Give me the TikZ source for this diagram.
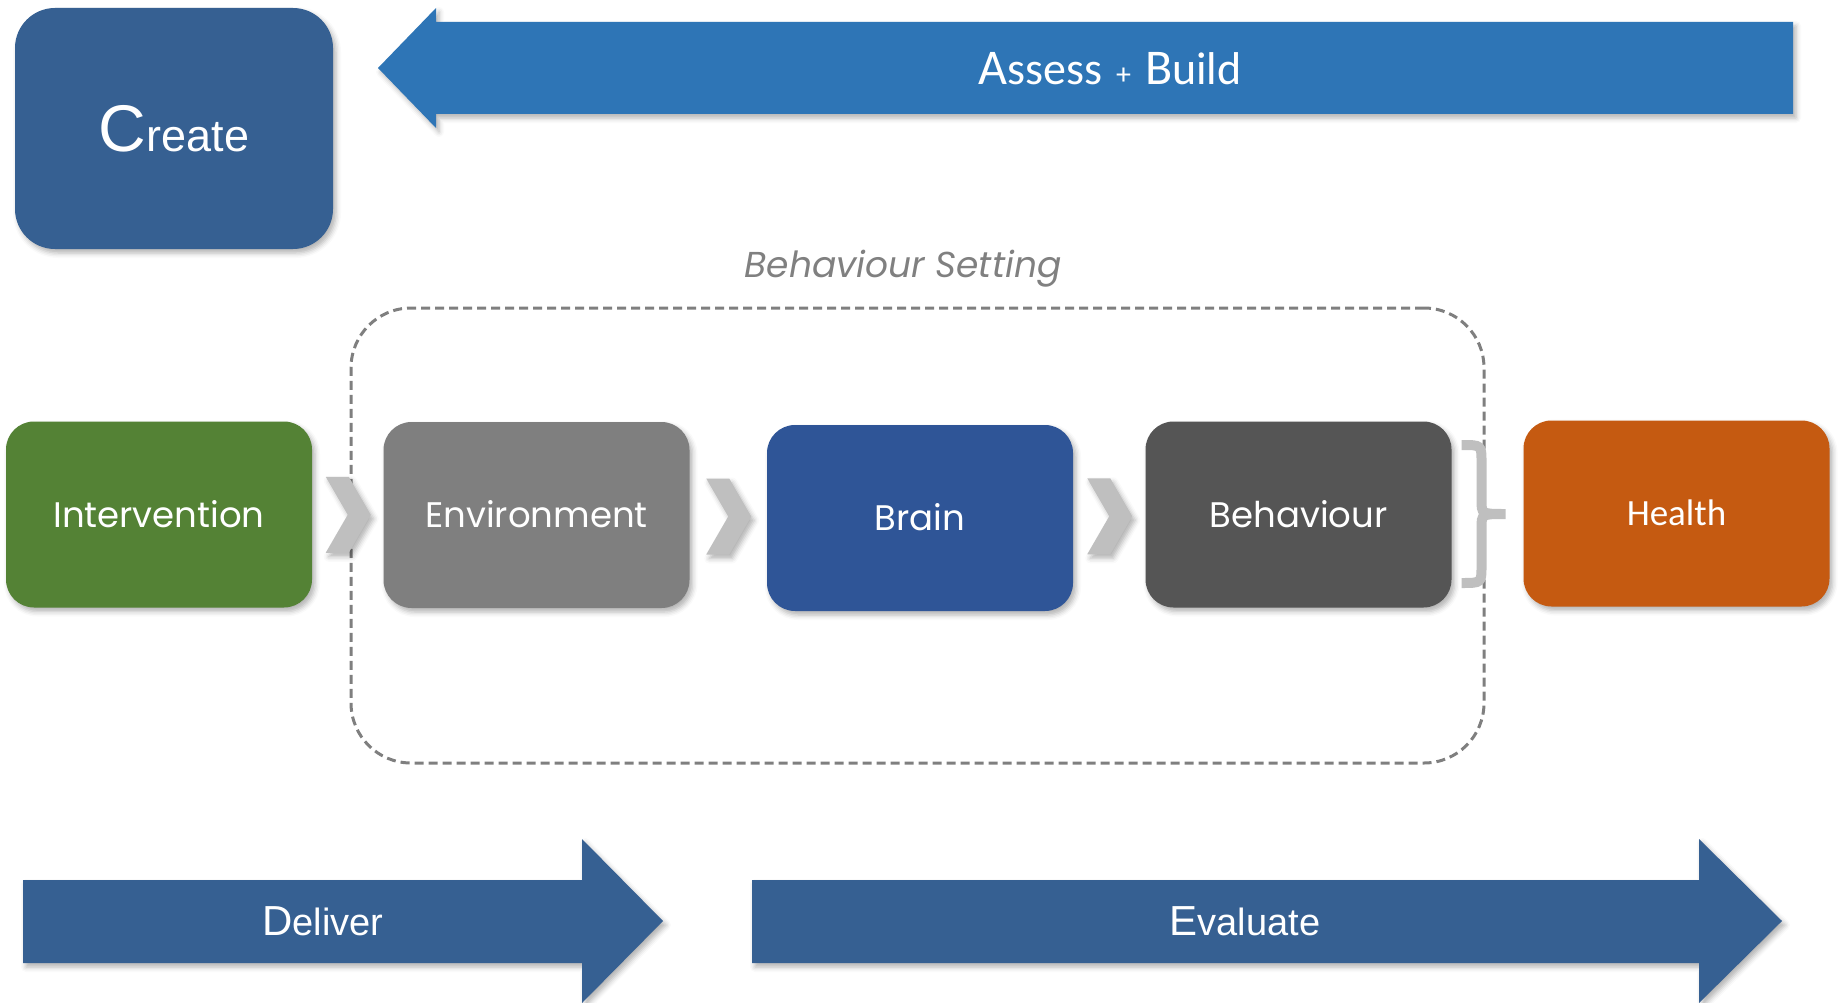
\documentclass[tikz,border=0pt]{standalone}
\usepackage{fontspec}
\setmainfont{Liberation Sans}
\newfontfamily\gothic{Poppins}
\newfontfamily\calib{Carlito}
\usetikzlibrary{calc,shadows.blur}

\definecolor{createblue}{HTML}{366092}
\definecolor{assessblue}{HTML}{2E75B6}
\definecolor{intgreen}{HTML}{548235}
\definecolor{envgray}{HTML}{7F7F7F}
\definecolor{brainblue}{HTML}{2F5597}
\definecolor{behgray}{HTML}{555555}
\definecolor{healthorange}{HTML}{C55A11}
\definecolor{chevgray}{HTML}{BFBFBF}
\definecolor{dashgray}{HTML}{7F7F7F}
\definecolor{labelgray}{HTML}{808080}

\tikzset{
  softshadow/.style={blur shadow={shadow xshift=3pt, shadow yshift=-4pt,
      shadow blur radius=5pt, shadow opacity=30}},
  stagebox/.style={rounded corners=28pt, minimum width=306pt,
      minimum height=186pt, inner sep=0pt, text=white,
      font=\gothic\fontsize{35.5}{35.5}\selectfont,
      text height=25pt, text depth=0pt, softshadow},
  createbox/.style={rounded corners=40pt, minimum width=318pt,
      minimum height=241pt, inner sep=0pt, text=white, fill=createblue,
      text height=47pt, text depth=0pt, softshadow},
  arrowtext/.style={text=white, inner sep=0pt, anchor=base},
  settingbox/.style={draw=dashgray, line width=3pt,
      dash pattern=on 9pt off 5pt, rounded corners=60pt,
      minimum width=1133pt, minimum height=455pt, inner sep=0pt},
  bracestroke/.style={draw=chevgray, line width=10pt},
  chevron/.pic={
    \fill[chevgray, softshadow] (-22,-38) -- (1,-38) -- (23,0) -- (1,38)
      -- (-22,38) -- (0,0) -- cycle;
  }
}

\begin{document}
\begin{tikzpicture}[x=1pt, y=-1pt]
\useasboundingbox (0,0) rectangle (1839,1003);

% behaviour setting frame and its caption
\node[settingbox] (setting) at (917.5,535.5) {};
\node[anchor=base, inner sep=0pt, text=labelgray,
      font=\gothic\itshape\fontsize{36}{36}\selectfont]
      (settinglabel) at (903,277) {Behaviour Setting};

% top row: create box and assess arrow
\node[createbox] (create) at (174,128.5)
  {{\fontsize{66}{66}\selectfont C}{\fontsize{45}{45}\selectfont reate}};
\fill[assessblue, softshadow] (378,68) -- (436,8) -- (436,22) -- (1793,22)
  -- (1793,114) -- (436,114) -- (436,128) -- cycle;
\node[arrowtext, font=\calib\fontsize{46}{46}\selectfont] (assess) at (1110,85)
  {{\fontsize{50}{50}\selectfont A}ssess\hspace{14pt}{\fontsize{30}{30}\selectfont +}\hspace{14pt}{\fontsize{50}{50}\selectfont B}uild};

% middle row: the causal chain
\node[stagebox, fill=intgreen] (int) at (159,514.5) {Intervention};
\node[stagebox, fill=envgray] (env) at (536.5,515) {Environment};
\node[stagebox, fill=brainblue] (brain) at (920,518) {Brain};
\node[stagebox, fill=behgray] (beh) at (1298.5,514.5) {Behaviour};
\node[stagebox, fill=healthorange, font=\calib\fontsize{37}{37}\selectfont,
      text height=24pt] (health) at (1676.5,513.5) {Health};

\pic at ($(int.east)!0.5!(env.west)$) {chevron};
\pic at ($(env.east)!0.5!(brain.west)$) {chevron};
\pic at ($(brain.east)!0.5!(beh.west)$) {chevron};

% brace gathering behaviour into health
\coordinate (brc) at ($(beh.east)!0.5!(health.west)$);
\begin{scope}[shift={(brc)}]
  \draw[bracestroke] (-26,-69) .. controls (-6,-69) .. (-6,-52)
    -- (-6,-14) .. controls (-6,0) .. (18,0)
    .. controls (-6,0) .. (-6,14) -- (-6,52)
    .. controls (-6,69) .. (-26,69);
\end{scope}

% bottom row: deliver and evaluate arrows
\fill[createblue, softshadow] (23,880) -- (582,880) -- (582,839) -- (663,921)
  -- (582,1003) -- (582,963) -- (23,963) -- cycle;
\node[arrowtext] (deliver) at (323,935)
  {{\fontsize{42}{42}\selectfont D}{\fontsize{38}{38}\selectfont eliver}};
\fill[createblue, softshadow] (752,880) -- (1699,880) -- (1699,839) -- (1782,921)
  -- (1699,1003) -- (1699,963) -- (752,963) -- cycle;
\node[arrowtext] (evaluate) at (1245,935)
  {{\fontsize{42}{42}\selectfont E}{\fontsize{38}{38}\selectfont valuate}};
\end{tikzpicture}
\end{document}
